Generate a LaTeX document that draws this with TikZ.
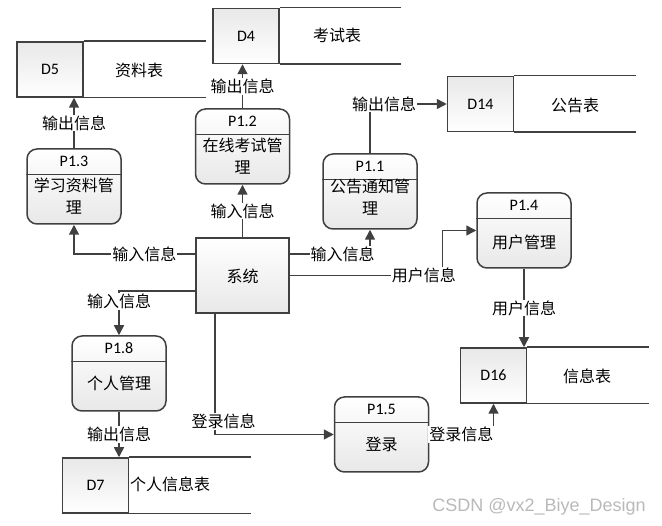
\documentclass[tikz,border=0pt]{standalone}
\usepackage{fontspec}
\setmainfont{Noto Sans CJK SC}
\newfontfamily\idfont{Carlito}
\newfontfamily\wmfont{Liberation Sans}
\usetikzlibrary{arrows.meta,calc}

\tikzset{
  proc/.style={draw=black!75, line width=1.5pt, rounded corners=10pt, minimum width=94pt, minimum height=75pt, top color=white, bottom color=gray!18, inner sep=0pt},
  sysbox/.style={draw=black!75, line width=1.5pt, minimum width=93pt, minimum height=75pt, top color=white, bottom color=gray!18, inner sep=0pt},
  storeid/.style={draw=black!75, line width=1.5pt, minimum width=66pt, minimum height=55pt, top color=gray!18, bottom color=white, inner sep=0pt, font=\idfont\fontsize{16}{18}\selectfont},
  edge/.style={draw=black!75, line width=1.5pt},
  flow/.style={edge, -{Triangle[length=10pt,width=10pt]}},
  lbl/.style={fill=white, inner sep=1pt, font=\fontsize{16}{18}\selectfont},
  txt/.style={font=\fontsize{16}{22}\selectfont, align=center, inner sep=0pt},
  pid/.style={font=\idfont\fontsize{16}{18}\selectfont, inner sep=0pt}
}

\begin{document}
\begin{tikzpicture}[x=1pt,y=-1pt]
\useasboundingbox (0,0) rectangle (662,526);

% processes
\foreach \n/\x/\y/\id in {p13/74/186.5/P1.3, p12/242.5/146.5/P1.2, p11/370/191.5/P1.1,
  p14/524/230.5/P1.4, p18/119/373.5/P1.8, p15/381.5/434.5/P1.5}{
  \node[proc] (\n) at (\x,\y) {};
  \draw[edge] ($(\n.north west)+(0,26.5)$) -- ($(\n.north east)+(0,26.5)$);
  \node[pid] (\n id) at ($(\n.north)+(0,13)$) {\id};
}
\node[txt] (p13t) at (74,196) {学习资料管\\理};
\node[txt] (p12t) at (242.5,156.5) {在线考试管\\理};
\node[txt] (p11t) at (370,197.5) {公告通知管\\理};
\node[txt] (p14t) at (524,242) {用户管理};
\node[txt] (p18t) at (119,383) {个人管理};
\node[txt] (p15t) at (381.5,444) {登录};

\node[sysbox] (sys) at (242.5,275.5) {};
\node[txt] (syst) at (242.5,276) {系统};

% data stores
\node[storeid] (d5) at (50,69.5) {D5};
\draw[edge] (d5.north east) -- ++(122,0) (d5.south east) -- ++(122,0);
\node[txt] (d5t) at (139,70) {资料表};
\node[storeid] (d4) at (246,36) {D4};
\draw[edge] (d4.north east) -- ++(121,0) (d4.south east) -- ++(121,0);
\node[txt] (d4t) at (337,35) {考试表};
\node[storeid] (d14) at (480.5,104) {D14};
\draw[edge] (d14.north east) -- ++(122,0) (d14.south east) -- ++(122,0);
\node[txt] (d14t) at (575,105) {公告表};
\node[storeid] (d16) at (493.5,375.5) {D16};
\draw[edge] (d16.north east) -- ++(122,0) (d16.south east) -- ++(122,0);
\node[txt] (d16t) at (587,376) {信息表};
\node[storeid] (d7) at (95.5,485.5) {D7};
\draw[edge] (d7.north east) -- ++(122,0) (d7.south east) -- ++(122,0);
\node[txt] (d7t) at (170,484) {个人信息表};

% flows
\draw[flow] (p13.north) -- node[lbl]{输出信息} (p13.north |- d5.south);
\draw[flow] (p12.north) -- node[lbl]{输出信息} (p12.north |- d4.south);
\draw[flow] (sys.north) -- node[lbl]{输入信息} (p12.south);
\draw[flow] (p11.north) |- node[lbl,pos=0.5,xshift=14pt]{输出信息} (d14.west);
\draw[flow] ($(sys.west)+(0,-21.5)$) -| node[lbl,pos=0.21]{输入信息} (p13.south);
\draw[flow] ($(sys.east)+(0,-21.5)$) -| node[lbl,pos=0.33]{输入信息} (p11.south);
\draw[flow] (sys.east) -| node[lbl,pos=0.44]{用户信息} ([xshift=-34pt]p14.west) -- (p14.west);
\draw[flow] (p14.south) -- node[lbl]{用户信息} (p14.south |- d16.north);
\draw[flow] ($(sys.west)+(0,15.5)$) -| node[lbl,pos=0.62]{输入信息} (p18.north);
\draw[flow] (p18.south) -- node[lbl]{输出信息} (p18.south |- d7.north);
\draw[flow] ([xshift=-27.5pt]sys.south) |- node[lbl,pos=0.5,xshift=8.5pt,yshift=13pt]{登录信息} (p15.west);
\draw[flow] (p15.east) -| node[lbl,pos=0.25]{登录信息} (d16.south);

\node[font=\wmfont\fontsize{18}{20}\selectfont, text=gray!55] (wm) at (539,507) {CSDN @vx2\_Biye\_Design};
\end{tikzpicture}
\end{document}
